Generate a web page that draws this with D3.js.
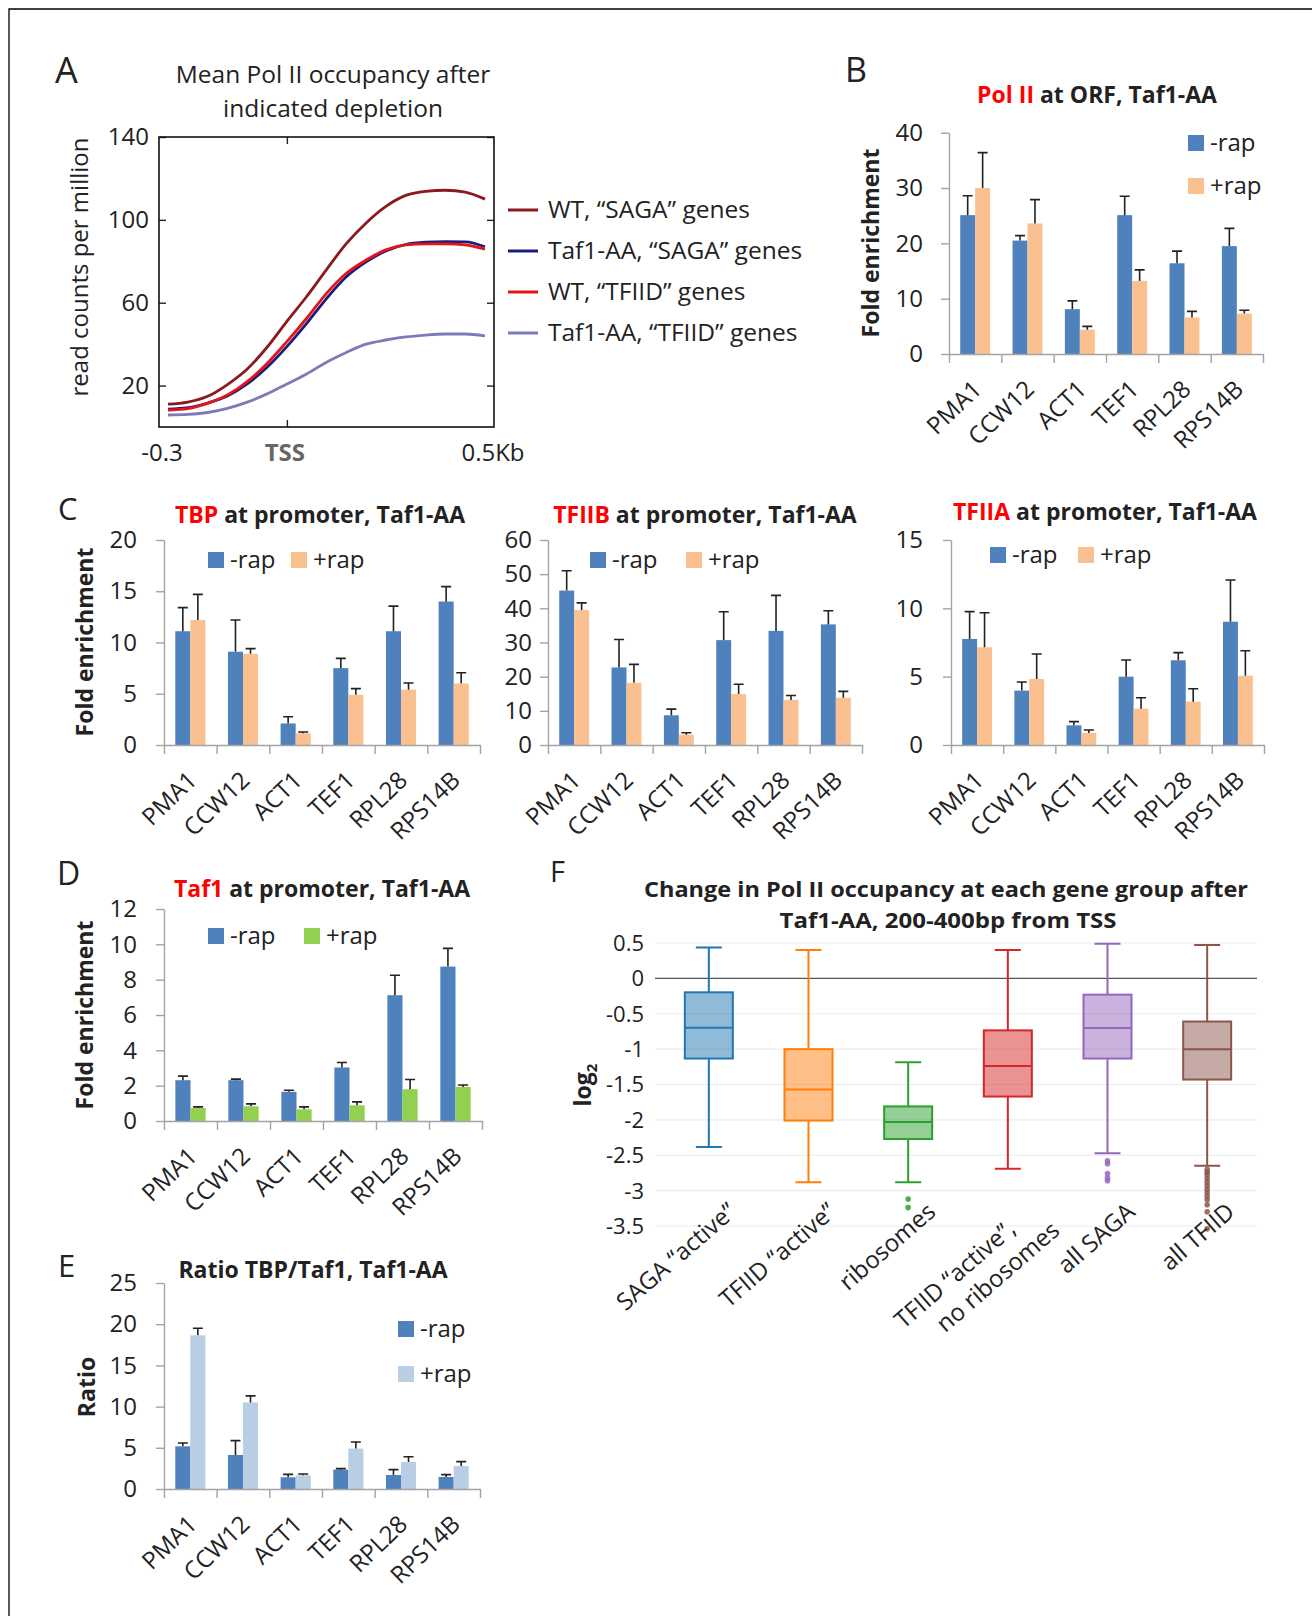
<!DOCTYPE html>
<html>
<head>
<meta charset="utf-8">
<script src="https://cdn.jsdelivr.net/npm/d3@7"></script>
<style>
body { margin: 0; background: #fff; }
text { font-family: "Open Sans", sans-serif; }
</style>
</head>
<body>
<div id="fig"></div>
<script>
// ---------- data ----------
// panel A: mean Pol II profile, read counts per million
const profileX = [-0.3, -0.25, -0.2, -0.15, -0.1, -0.05, 0, 0.05, 0.1, 0.15, 0.2, 0.25, 0.3, 0.35, 0.4, 0.45, 0.5];
const wtSaga   = [11, 12, 14.8, 20.5, 28, 38.5, 51, 63, 76, 88.5, 98.5, 106.5, 111.8, 113.8, 114.3, 113.4, 110];
const aaSaga   = [8.6, 9.3, 11.6, 15, 20.8, 28.8, 38.8, 50, 62, 72.5, 79.7, 85, 88.1, 89.2, 89.5, 89.4, 87];
const wtTfiid  = [8.2, 8.9, 11.4, 15.4, 21.9, 30.7, 41.2, 52.5, 64.5, 74.2, 80.6, 85.5, 87.9, 88.4, 88.4, 87.9, 85.8];
const aaTfiid  = [5.8, 6.1, 7, 9, 12, 16, 20.8, 25.6, 31.3, 36, 40, 42, 43.5, 44.4, 44.9, 44.9, 44];
const profileNames = ["WT, “SAGA” genes", "Taf1-AA, “SAGA” genes", "WT, “TFIID” genes", "Taf1-AA, “TFIID” genes"];
const profileTicks = [20, 60, 100, 140];

// panels B-E: ChIP fold enrichment per gene, -rap / +rap, with upper error
const genes = ["PMA1", "CCW12", "ACT1", "TEF1", "RPL28", "RPS14B"];
const rapNames = ["-rap", "+rap"];

const polMinus = [25.1, 20.5, 8.1, 25.1, 16.4, 19.5];
const polMinusErr = [3.5, 0.9, 1.5, 3.4, 2.2, 3.2];
const polPlus = [30.0, 23.6, 4.4, 13.2, 6.6, 7.3];
const polPlusErr = [6.4, 4.3, 0.6, 2.0, 1.1, 0.6];

const tbpMinus = [11.1, 9.1, 2.1, 7.5, 11.1, 14.0];
const tbpMinusErr = [2.3, 3.1, 0.65, 0.95, 2.45, 1.45];
const tbpPlus = [12.2, 8.9, 1.14, 4.9, 5.4, 6.0];
const tbpPlusErr = [2.5, 0.5, 0.13, 0.6, 0.65, 1.05];

const tfiibMinus = [45.2, 22.7, 8.7, 30.7, 33.4, 35.3];
const tfiibMinusErr = [5.8, 8.2, 1.8, 8.3, 10.4, 4.0];
const tfiibPlus = [39.5, 18.2, 3.0, 14.9, 13.2, 13.85];
const tfiibPlusErr = [2.1, 5.4, 0.6, 2.9, 1.3, 1.85];

const tfiiaMinus = [7.76, 3.98, 1.44, 5.0, 6.2, 9.02];
const tfiiaMinusErr = [2.0, 0.63, 0.27, 1.22, 0.56, 3.05];
const tfiiaPlus = [7.15, 4.83, 0.88, 2.66, 3.17, 5.07];
const tfiiaPlusErr = [2.53, 1.83, 0.22, 0.8, 0.95, 1.83];

const taf1Minus = [2.31, 2.31, 1.65, 3.03, 7.12, 8.74];
const taf1MinusErr = [0.23, 0.06, 0.09, 0.28, 1.13, 1.03];
const taf1Plus = [0.74, 0.83, 0.66, 0.89, 1.8, 1.93];
const taf1PlusErr = [0.06, 0.14, 0.14, 0.19, 0.55, 0.11];

const ratioMinus = [5.18, 4.13, 1.42, 2.35, 1.7, 1.46];
const ratioMinusErr = [0.4, 1.74, 0.36, 0.12, 0.65, 0.28];
const ratioPlus = [18.65, 10.5, 1.66, 4.9, 3.28, 2.79];
const ratioPlusErr = [0.85, 0.8, 0.16, 0.8, 0.64, 0.53];

// panel F: log2 change, box plot summaries
const groups = ["SAGA “active”", "TFIID “active”", "ribosomes", "TFIID “active”, no ribosomes", "all SAGA", "all TFIID"];
const groupLines = [["SAGA “active”"], ["TFIID “active”"], ["ribosomes"], ["TFIID “active”,", "no ribosomes"], ["all SAGA"], ["all TFIID"]];
const whiskerHigh = [0.435, 0.40, -1.185, 0.40, 0.49, 0.47];
const q3 = [-0.197, -1.0, -1.81, -0.735, -0.23, -0.61];
const median = [-0.698, -1.57, -2.03, -1.24, -0.70, -1.0];
const q1 = [-1.133, -2.01, -2.27, -1.67, -1.133, -1.43];
const whiskerLow = [-2.384, -2.88, -2.88, -2.69, -2.47, -2.65];
const outliers = [[], [], [-3.12, -3.24], [],
  [-2.58, -2.62, -2.76, -2.82, -2.86],
  [-2.7, -2.74, -2.78, -2.83, -2.88, -2.93, -2.98, -3.03, -3.08, -3.13, -3.2, -3.3, -3.54]];
const log2Ticks = [0.5, 0, -0.5, -1, -1.5, -2, -2.5, -3, -3.5];

// ---------- style ----------
const ink = "#222";
const red = "#f00";
const axisGray = "#a3a3a3";
const blue = "#4f81bd", orange = "#fac090", green = "#92d050", paleBlue = "#b9cde5";
const lineColors = ["#8b1a1f", "#1c1c7c", "#e3151b", "#7b7bb8"];
const boxColors = ["#1f77b4", "#ff7f0e", "#2ca02c", "#d62728", "#9467bd", "#8c564b"];

const svg = d3.select("#fig").append("svg").attr("width", 1312).attr("height", 1616);

// cropped frame, top and left edges
svg.append("path").attr("d", "M9,1616V9H1312")
  .attr("fill", "none").attr("stroke", "#000").attr("stroke-width", 1.3);

function letter(t, x, y, size) {
  svg.append("text").attr("x", x).attr("y", y).attr("font-size", size).attr("fill", ink).text(t);
}

function styleAxis(a, size, color) {
  a.attr("font-family", null).attr("font-size", size);
  a.select(".domain").attr("stroke", color).attr("stroke-width", 1.4);
  a.selectAll(".tick line").attr("stroke", color).attr("stroke-width", 1.4);
  a.selectAll(".tick text").attr("fill", ink);
}

// ---------- panel A ----------
(function () {
  const g = svg.append("g");
  const x = d3.scaleLinear().domain([-0.3, 0.5]).range([168, 485]);
  const y = d3.scaleLinear().domain([0, 140]).range([427, 137]);
  const L = 159, R = 494;

  const series = [aaTfiid, aaSaga, wtTfiid, wtSaga];
  const colors = [lineColors[3], lineColors[1], lineColors[2], lineColors[0]];
  const line = d3.line().x((d, i) => x(profileX[i])).y(d => y(d)).curve(d3.curveMonotoneX);
  series.forEach((s, k) => {
    g.append("path").datum(s).attr("d", line).attr("fill", "none")
      .attr("stroke", colors[k]).attr("stroke-width", 2.8);
  });

  const ax = g.append("g").attr("transform", `translate(${L},0)`)
    .call(d3.axisLeft(y).tickValues(profileTicks).tickSizeInner(-7).tickSizeOuter(0).tickPadding(10));
  styleAxis(ax, 24, "#222");
  ax.select(".domain").remove();
  const axr = g.append("g").attr("transform", `translate(${R},0)`)
    .call(d3.axisRight(y).tickValues(profileTicks).tickSizeInner(-7).tickSizeOuter(0).tickFormat(""));
  styleAxis(axr, 24, "#222");
  axr.select(".domain").remove();
  const axb = g.append("g").attr("transform", `translate(0,${y(0)})`)
    .call(d3.axisBottom(x).tickValues([0]).tickSizeInner(-7).tickSizeOuter(0).tickFormat(""));
  styleAxis(axb, 24, "#222");
  axb.select(".domain").remove();
  const axt = g.append("g").attr("transform", `translate(0,${y(140)})`)
    .call(d3.axisTop(x).tickValues([0]).tickSizeInner(-7).tickSizeOuter(0).tickFormat(""));
  styleAxis(axt, 24, "#222");
  axt.select(".domain").remove();

  g.append("rect").attr("x", L).attr("y", y(140)).attr("width", R - L).attr("height", y(0) - y(140))
    .attr("fill", "none").attr("stroke", "#111").attr("stroke-width", 1.6);

  const xl = [["-0.3", -0.3], ["TSS", 0], ["0.5Kb", 0.5]];
  g.selectAll(null).data(xl).join("text")
    .attr("x", d => x(d[1])).attr("dx", (d, i) => [-6, -2, 8][i]).attr("y", y(0) + 34)
    .attr("text-anchor", "middle").attr("font-size", 24)
    .attr("font-weight", d => d[0] === "TSS" ? 700 : 400)
    .attr("fill", d => d[0] === "TSS" ? "#666" : ink)
    .text(d => d[0]);

  g.append("text").attr("transform", "translate(88,267) rotate(-90)").attr("text-anchor", "middle")
    .attr("font-size", 24).attr("fill", ink).text("read counts per million");

  const tt = g.append("text").attr("text-anchor", "middle").attr("font-size", 24.5).attr("fill", ink);
  tt.append("tspan").attr("x", 333).attr("y", 83).text("Mean Pol II occupancy after");
  tt.append("tspan").attr("x", 333).attr("y", 117).text("indicated depletion");

  // legend
  const ly = d3.scalePoint().domain(profileNames).range([210, 333]);
  const lg = g.selectAll(null).data(profileNames).join("g")
    .attr("transform", d => `translate(508,${ly(d)})`);
  lg.append("line").attr("x2", 30).attr("stroke", (d, i) => lineColors[i]).attr("stroke-width", 3);
  lg.append("text").attr("x", 40).attr("y", 8).attr("font-size", 24.5).attr("fill", ink).text(d => d);
})();

// ---------- bar panels ----------
function barPanel(o) {
  const g = svg.append("g");
  const x = d3.scaleBand().domain(genes).range([o.left, o.right]);
  const sub = d3.scaleBand().domain([0, 1]).range([0, x.bandwidth()]).paddingOuter(0.75);
  const y = d3.scaleLinear().domain([0, o.max]).range([o.bottom, o.top]);

  o.series.forEach((s, si) => {
    g.selectAll(null).data(s.values).join("rect")
      .attr("x", (d, i) => x(genes[i]) + sub(si))
      .attr("y", d => y(d))
      .attr("width", sub.bandwidth())
      .attr("height", d => y(0) - y(d))
      .attr("fill", s.color);
  });
  o.series.forEach((s, si) => {
    g.selectAll(null).data(s.values).join("path")
      .attr("d", (d, i) => {
        const cx = x(genes[i]) + sub(si) + sub.bandwidth() / 2;
        const y1 = y(d), y2 = y(d + s.err[i]);
        return `M${cx},${y1}V${y2}M${cx - 5},${y2}H${cx + 5}`;
      })
      .attr("fill", "none").attr("stroke", ink).attr("stroke-width", 1.6);
  });

  const ya = g.append("g").attr("transform", `translate(${o.left},0)`)
    .call(d3.axisLeft(y).tickValues(d3.range(0, o.max + o.step / 2, o.step))
      .tickSizeInner(8).tickSizeOuter(0).tickPadding(o.pad));
  styleAxis(ya, 24, axisGray);

  const xa = g.append("g").attr("transform", `translate(0,${o.bottom})`)
    .call(d3.axisBottom(d3.scaleLinear().domain([0, genes.length]).range([o.left, o.right]))
      .ticks(genes.length).tickFormat("").tickSizeInner(9).tickSizeOuter(0));
  styleAxis(xa, 24, axisGray);

  g.selectAll(null).data(genes).join("text")
    .attr("transform", d => `translate(${x(d) + x.bandwidth() / 2 + 8},${o.bottom + 37}) rotate(-44)`)
    .attr("text-anchor", "end").attr("font-size", 24).attr("fill", ink).text(d => d);

  const t = g.append("text").attr("x", o.titleX).attr("y", o.titleY).attr("text-anchor", "middle")
    .attr("font-size", 23).attr("font-weight", 700);
  t.append("tspan").attr("fill", red).text(o.title[0]);
  t.append("tspan").attr("fill", ink).text(o.title[1]);

  o.series.forEach((s, si) => {
    const [lx, ly] = o.legend[si];
    g.append("rect").attr("x", lx).attr("y", ly).attr("width", 16).attr("height", 16).attr("fill", s.color);
    g.append("text").attr("x", lx + 22).attr("y", ly + 16).attr("font-size", 24).attr("fill", ink).text(rapNames[si]);
  });

  if (o.ylabel) {
    g.append("text").attr("transform", `translate(${o.ylabel[1]},${o.ylabel[2]}) rotate(-90)`)
      .attr("text-anchor", "middle").attr("font-size", 23).attr("font-weight", 700).attr("fill", ink)
      .text(o.ylabel[0]);
  }
}

barPanel({
  left: 949, right: 1263, top: 132.7, bottom: 354, max: 40, step: 10, pad: 18,
  title: ["Pol II", " at ORF, Taf1-AA"], titleX: 1097, titleY: 103,
  legend: [[1188, 135], [1188, 178]], ylabel: ["Fold enrichment", 879, 243],
  series: [{ values: polMinus, err: polMinusErr, color: blue }, { values: polPlus, err: polPlusErr, color: orange }]
});
barPanel({
  left: 164, right: 480, top: 540, bottom: 745, max: 20, step: 5, pad: 19,
  title: ["TBP", " at promoter, Taf1-AA"], titleX: 320, titleY: 523,
  legend: [[208, 552], [291, 552]], ylabel: ["Fold enrichment", 93, 642],
  series: [{ values: tbpMinus, err: tbpMinusErr, color: blue }, { values: tbpPlus, err: tbpPlusErr, color: orange }]
});
barPanel({
  left: 548, right: 862, top: 540, bottom: 745, max: 60, step: 10, pad: 8,
  title: ["TFIIB", " at promoter, Taf1-AA"], titleX: 705, titleY: 523,
  legend: [[590, 552], [686, 552]],
  series: [{ values: tfiibMinus, err: tfiibMinusErr, color: blue }, { values: tfiibPlus, err: tfiibPlusErr, color: orange }]
});
barPanel({
  left: 951, right: 1264, top: 540, bottom: 745, max: 15, step: 5, pad: 20,
  title: ["TFIIA", " at promoter, Taf1-AA"], titleX: 1105, titleY: 520,
  legend: [[990, 547], [1078, 547]],
  series: [{ values: tfiiaMinus, err: tfiiaMinusErr, color: blue }, { values: tfiiaPlus, err: tfiiaPlusErr, color: orange }]
});
barPanel({
  left: 164, right: 482, top: 909, bottom: 1121, max: 12, step: 2, pad: 19,
  title: ["Taf1", " at promoter, Taf1-AA"], titleX: 322, titleY: 897,
  legend: [[208, 928], [304, 928]], ylabel: ["Fold enrichment", 93, 1015],
  series: [{ values: taf1Minus, err: taf1MinusErr, color: blue }, { values: taf1Plus, err: taf1PlusErr, color: green }]
});
barPanel({
  left: 164, right: 480, top: 1283, bottom: 1489, max: 25, step: 5, pad: 19,
  title: ["", "Ratio TBP/Taf1, Taf1-AA"], titleX: 313, titleY: 1278,
  legend: [[398, 1321], [398, 1366]], ylabel: ["Ratio", 95, 1387],
  series: [{ values: ratioMinus, err: ratioMinusErr, color: blue }, { values: ratioPlus, err: ratioPlusErr, color: paleBlue }]
});

// ---------- panel F ----------
(function () {
  const g = svg.append("g");
  const x = d3.scaleBand().domain(groups).range([659, 1257]);
  const y = d3.scaleLinear().domain([-3.5, 0.5]).range([1226, 943]);
  const bw = 48, cap = 13;

  g.selectAll(null).data(log2Ticks).join("line")
    .attr("x1", 655).attr("x2", 1257).attr("y1", d => y(d)).attr("y2", d => y(d))
    .attr("stroke", d => d === 0 ? "#555" : "#ebebeb").attr("stroke-width", 1.2);
  g.selectAll(null).data(log2Ticks).join("text")
    .attr("x", 644).attr("y", d => y(d)).attr("dy", "0.36em").attr("text-anchor", "end")
    .attr("font-size", 22).attr("fill", ink).text(d => d);

  const box = g.selectAll(null).data(groups).join("g")
    .attr("transform", d => `translate(${x(d) + x.bandwidth() / 2},0)`);
  box.each(function (d, i) {
    const b = d3.select(this), c = boxColors[i];
    b.append("path")
      .attr("d", `M0,${y(whiskerHigh[i])}V${y(q3[i])}M0,${y(q1[i])}V${y(whiskerLow[i])}` +
        `M${-cap},${y(whiskerHigh[i])}H${cap}M${-cap},${y(whiskerLow[i])}H${cap}`)
      .attr("stroke", c).attr("stroke-width", 2).attr("fill", "none");
    b.append("rect").attr("x", -bw / 2).attr("width", bw)
      .attr("y", y(q3[i])).attr("height", y(q1[i]) - y(q3[i]))
      .attr("fill", c).attr("fill-opacity", 0.5).attr("stroke", c).attr("stroke-width", 2);
    b.append("line").attr("x1", -bw / 2).attr("x2", bw / 2)
      .attr("y1", y(median[i])).attr("y2", y(median[i])).attr("stroke", c).attr("stroke-width", 2);
    b.selectAll("circle").data(outliers[i]).join("circle")
      .attr("r", 2.8).attr("cy", v => y(v)).attr("fill", c).attr("fill-opacity", 0.85);
  });

  g.selectAll(null).data(groups).join("text")
    .attr("transform", d => `translate(${x(d) + x.bandwidth() / 2 + 29},1214) rotate(-41)`)
    .attr("text-anchor", "end").attr("font-size", 24).attr("fill", ink)
    .each(function (d, i) {
      const t = d3.select(this);
      const lines = groupLines[i];
      lines.forEach((s, k) => {
        t.append("tspan")
          .attr("x", lines.length > 1 ? (k ? 6 : -26) : 0)
          .attr("y", k * 30).text(s);
      });
    });

  const yl = g.append("text").attr("transform", "translate(591,1085) rotate(-90)")
    .attr("text-anchor", "middle").attr("font-size", 23).attr("font-weight", 700).attr("fill", ink);
  yl.append("tspan").text("log");
  yl.append("tspan").attr("font-size", 15).attr("dy", 6).text("2");

  g.append("text").attr("x", 946).attr("y", 897).attr("text-anchor", "middle")
    .attr("font-size", 22).attr("font-weight", 700).attr("fill", ink)
    .attr("textLength", 604).attr("lengthAdjust", "spacingAndGlyphs")
    .text("Change in Pol II occupancy at each gene  group after");
  g.append("text").attr("x", 948).attr("y", 928).attr("text-anchor", "middle")
    .attr("font-size", 22).attr("font-weight", 700).attr("fill", ink)
    .attr("textLength", 337).attr("lengthAdjust", "spacingAndGlyphs")
    .text("Taf1-AA, 200-400bp from TSS");
})();

letter("A", 55, 83, 36);
letter("B", 845, 82, 34);
letter("C", 58, 520, 31);
letter("D", 57, 885, 32);
letter("E", 58, 1277, 31);
letter("F", 550, 882, 29);
</script>
</body>
</html>
